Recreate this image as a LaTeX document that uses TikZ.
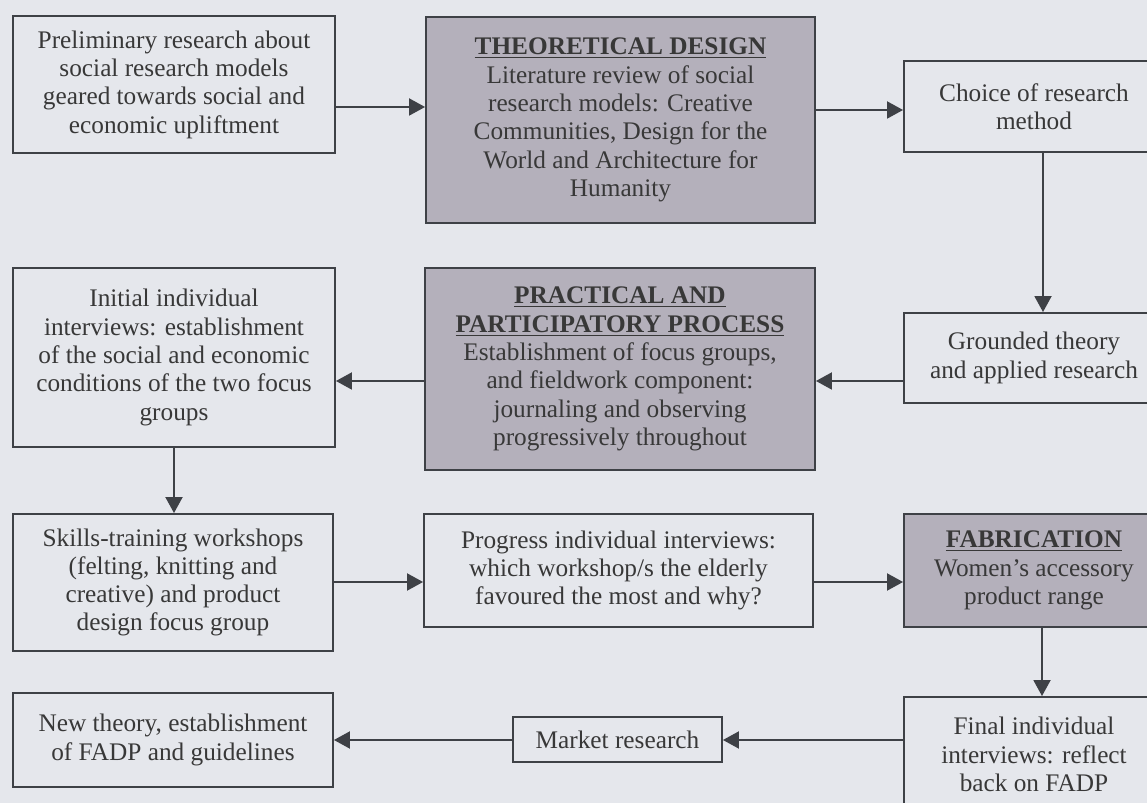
\documentclass[tikz,border=0pt]{standalone}
\usepackage{fontspec}
\setmainfont{Liberation Serif}
\usepackage{xcolor}
\usepackage{tikz}
\usetikzlibrary{arrows.meta, calc}

\definecolor{bgclr}{RGB}{229,231,236}
\definecolor{shadeclr}{RGB}{180,176,187}
\definecolor{lineclr}{RGB}{62,65,70}

\begin{document}
\begin{tikzpicture}[x=0.02cm, y=-0.02cm,
  box/.style={draw=lineclr, line width=1.1pt, fill=bgclr, align=center,
              inner sep=0pt, text=black!78,
              font=\fontsize{14.4}{16.1}\selectfont},
  stagebox/.style={box, fill=shadeclr},
  arr/.style={draw=lineclr, line width=1.1pt,
              -{Triangle[length=0.32cm, width=0.34cm]}}]

% Page
\useasboundingbox (0,0) rectangle (1147,803);
\fill[bgclr] (0,0) rectangle (1147,803);
\clip (0,0) rectangle (1147,803);

% Row 1
\node[box, minimum width=6.44cm, minimum height=2.74cm] (pre) at (174,84.5)
  {Preliminary research about\\social research models\\geared towards social and\\economic upliftment};

\node[stagebox, minimum width=7.78cm, minimum height=4.12cm] (theo) at (620.5,120)
  {\underline{\textbf{THEORETICAL DESIGN}}\\Literature review of social\\research models: Creative\\Communities, Design for the\\World and Architecture for\\Humanity};

\node[box, minimum width=5.2cm, minimum height=1.82cm] (choice) at (1034,106.5)
  {Choice of research\\method};

% Row 2
\node[box, minimum width=5.2cm, minimum height=1.8cm] (grounded) at (1034,358)
  {Grounded theory\\and applied research};

\node[stagebox, minimum width=7.8cm, minimum height=4.04cm] (practical) at (620,369)
  {\underline{\textbf{PRACTICAL AND}}\\\underline{\textbf{PARTICIPATORY PROCESS}}\\Establishment of focus groups,\\and fieldwork component:\\journaling and observing\\progressively throughout};

\node[box, minimum width=6.44cm, minimum height=3.58cm] (initial) at (174,357.5)
  {Initial individual\\interviews: establishment\\of the social and economic\\conditions of the two focus\\groups};

% Row 3
\node[box, minimum width=6.4cm, minimum height=2.74cm] (skills) at (173,582.5)
  {Skills-training workshops\\(felting, knitting and\\creative) and product\\design focus group};

\node[box, minimum width=7.78cm, minimum height=2.26cm] (progress) at (618.5,570.5)
  {Progress individual interviews:\\which workshop/s the elderly\\favoured the most and why?};

\node[stagebox, minimum width=5.2cm, minimum height=2.26cm] (fab) at (1034,570.5)
  {\underline{\textbf{FABRICATION}}\\Women's accessory\\product range};

% Row 4
\node[box, minimum width=5.2cm, minimum height=2.3cm] (final) at (1034,754.5)
  {Final individual\\interviews: reflect\\back on FADP};

\node[box, minimum width=4.18cm, minimum height=0.9cm] (market) at (617.5,739.5)
  {Market research};

\node[box, minimum width=6.4cm, minimum height=1.88cm] (new) at (173,740)
  {New theory, establishment\\of FADP and guidelines};

% Flow
\draw[arr] (pre.east |- 0,107) -- (theo.west |- 0,107);
\draw[arr] (theo.east |- 0,110) -- (choice.west |- 0,110);
\draw[arr] (choice.south -| 1043,0) -- (grounded.north -| 1043,0);
\draw[arr] (grounded.west |- 0,381) -- (practical.east |- 0,381);
\draw[arr] (practical.west |- 0,381) -- (initial.east |- 0,381);
\draw[arr] (initial.south) -- (initial.south |- skills.north);
\draw[arr] (skills.east |- 0,582) -- (progress.west |- 0,582);
\draw[arr] (progress.east |- 0,582) -- (fab.west |- 0,582);
\draw[arr] (fab.south -| 1042,0) -- (final.north -| 1042,0);
\draw[arr] (final.west |- 0,740) -- (market.east |- 0,740);
\draw[arr] (market.west |- 0,740) -- (new.east |- 0,740);

\end{tikzpicture}
\end{document}
